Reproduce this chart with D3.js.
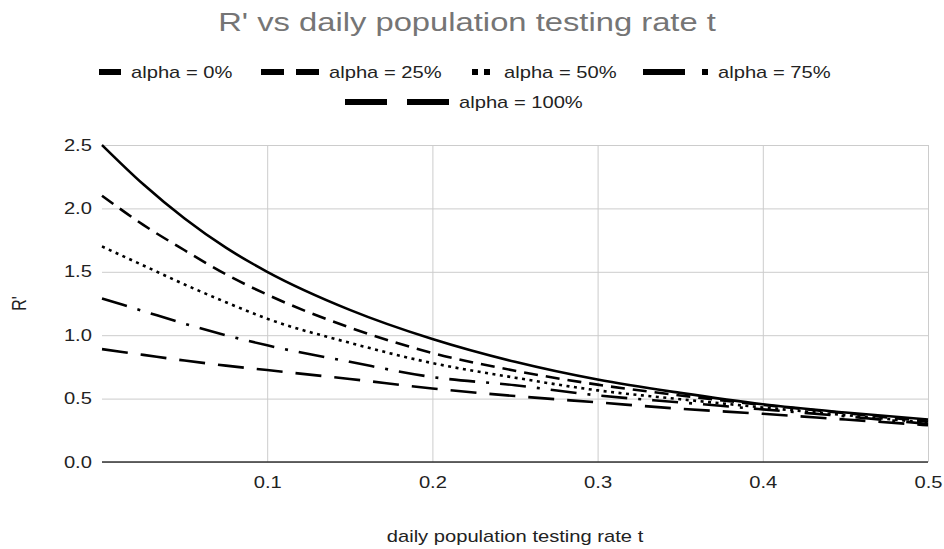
<!DOCTYPE html>
<html>
<head>
<meta charset="utf-8">
<script src="https://cdn.jsdelivr.net/npm/d3@7"></script>
<style>
  html, body { margin: 0; padding: 0; background: #fff; }
  svg { display: block; font-family: "Liberation Sans", Arial, sans-serif; }
</style>
</head>
<body>
<svg id="chart" width="944" height="549"></svg>
<script>
// ---- data ----
const tValues = [0, 0.025, 0.05, 0.075, 0.1, 0.15, 0.2, 0.25, 0.3, 0.35, 0.4, 0.45, 0.5];
const alpha0   = [2.50, 2.19, 1.92, 1.69, 1.50, 1.20, 0.97, 0.79, 0.65, 0.545, 0.455, 0.39, 0.335];
const alpha25  = [2.10, 1.87, 1.67, 1.48, 1.32, 1.06, 0.86, 0.72, 0.61, 0.525, 0.45, 0.385, 0.32];
const alpha50  = [1.70, 1.55, 1.40, 1.26, 1.13, 0.94, 0.78, 0.665, 0.565, 0.495, 0.43, 0.37, 0.31];
const alpha75  = [1.29, 1.19, 1.09, 1.00, 0.92, 0.79, 0.67, 0.605, 0.525, 0.47, 0.415, 0.36, 0.30];
const alpha100 = [0.89, 0.845, 0.80, 0.76, 0.725, 0.655, 0.58, 0.52, 0.47, 0.42, 0.38, 0.335, 0.29];
const seriesNames = ["alpha = 0%", "alpha = 25%", "alpha = 50%", "alpha = 75%", "alpha = 100%"];
const xTicks = [0.1, 0.2, 0.3, 0.4, 0.5];
const yTicks = [0, 0.5, 1.0, 1.5, 2.0, 2.5];
const titleText = "R' vs daily population testing rate t";
const xTitle = "daily population testing rate t";
const yTitle = "R'";

// ---- styling ----
const seriesValues = [alpha0, alpha25, alpha50, alpha75, alpha100];
const plotDash = [null, "14,8", "3,4.5", "26,11,3,11", "26,13"];
const legendDash = [null, "23,12", "6,6", "42,17,6", "42,20,42"];
const legendLen = [22, 58, 20, 65, 104];
const SX = 1.26; // horizontal stretch of all text in the reference

const svg = d3.select("#chart");
const W = 944, H = 549;
const m = { left: 102, right: 16, top: 145, bottom: 87 };
const pw = W - m.left - m.right, ph = H - m.top - m.bottom;

const x = d3.scaleLinear().domain([0, 0.5]).range([m.left, m.left + pw]);
const y = d3.scaleLinear().domain([0, 2.5]).range([m.top + ph, m.top]);

function stretchedText(parent, px, py, str, opts) {
  const g = parent.append("g").attr("transform", `translate(${px},${py}) scale(${SX},1)` + (opts.rotate ? ` rotate(${opts.rotate})` : ""));
  return g.append("text")
    .attr("text-anchor", opts.anchor || "start")
    .attr("dy", opts.dy || null)
    .attr("fill", opts.fill || "#222")
    .style("font-size", (opts.size || 16) + "px")
    .text(str);
}

// gridlines + y labels
const yAxis = svg.append("g")
  .attr("transform", `translate(${m.left},0)`)
  .call(d3.axisLeft(y).tickValues(yTicks).tickFormat(d3.format(".1f")).tickSize(-pw).tickPadding(8));
yAxis.select(".domain").remove();
yAxis.selectAll(".tick line").attr("stroke", "#cccccc").attr("stroke-width", 1);
yAxis.selectAll(".tick text").attr("fill", "#222").style("font-size", "16px")
  .attr("transform", `scale(${SX},1)`);

const xAxis = svg.append("g")
  .attr("transform", `translate(0,${m.top + ph})`)
  .call(d3.axisBottom(x).tickValues(xTicks).tickFormat(d3.format(".1f")).tickSize(-ph).tickPadding(15));
xAxis.select(".domain").remove();
xAxis.selectAll(".tick line").attr("stroke", "#cccccc").attr("stroke-width", 1);
xAxis.selectAll(".tick text").attr("fill", "#222").style("font-size", "16px")
  .attr("transform", `scale(${SX},1)`);

// baseline
svg.append("line")
  .attr("x1", x(0)).attr("x2", x(0.5))
  .attr("y1", y(0)).attr("y2", y(0))
  .attr("stroke", "#333").attr("stroke-width", 1.3);

// lines
const line = d3.line()
  .x((d, i) => x(tValues[i]))
  .y(d => y(d))
  .curve(d3.curveMonotoneX);

seriesValues.forEach((vals, i) => {
  svg.append("path")
    .datum(vals)
    .attr("d", line)
    .attr("fill", "none")
    .attr("stroke", "#000")
    .attr("stroke-width", 2.6)
    .attr("stroke-dasharray", plotDash[i]);
});

// title
stretchedText(svg, 467, 31, titleText, { anchor: "middle", fill: "#757575", size: 26 });

// axis titles
stretchedText(svg, x(0.25), 542, xTitle, { anchor: "middle" });
stretchedText(svg, 26, y(1.25), yTitle, { anchor: "middle", rotate: -90 });

// legend
const legendPos = [
  { sx: 99, row: 0 },
  { sx: 261, row: 0 },
  { sx: 472, row: 0 },
  { sx: 643, row: 0 },
  { sx: 345, row: 1 }
];
const rowY = [72, 102];
seriesNames.forEach((name, i) => {
  const p = legendPos[i];
  const g = svg.append("g");
  g.append("line")
    .attr("x1", p.sx).attr("x2", p.sx + legendLen[i])
    .attr("y1", rowY[p.row]).attr("y2", rowY[p.row])
    .attr("stroke", "#000").attr("stroke-width", 6)
    .attr("stroke-dasharray", legendDash[i]);
  stretchedText(g, p.sx + legendLen[i] + (i === 2 ? 12 : 10), rowY[p.row], name, { dy: "0.35em" });
});
</script>
</body>
</html>
